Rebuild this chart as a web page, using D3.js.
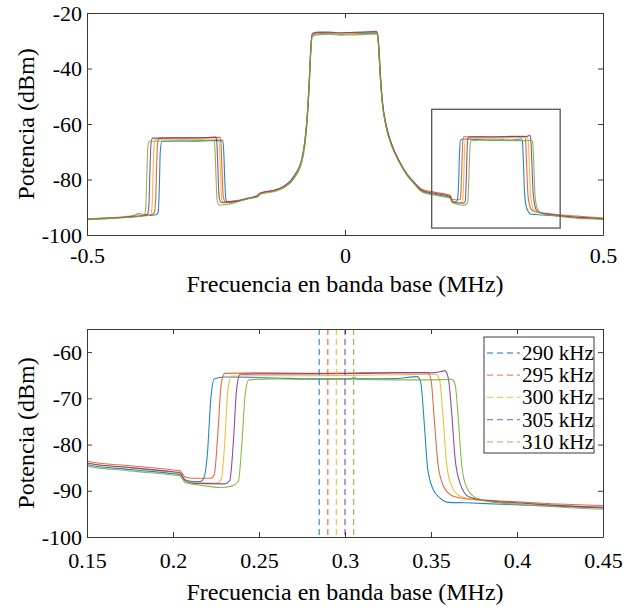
<!DOCTYPE html>
<html>
<head>
<meta charset="utf-8">
<script src="https://cdn.jsdelivr.net/npm/d3@7"></script>
<style>
  body { margin: 0; background: #fff; }
  text { font-family: "Liberation Serif", "Times New Roman", serif; }
</style>
</head>
<body>
<script>
const W = 635, H = 614;

// legend / series names
const labels = ["290 kHz", "295 kHz", "300 kHz", "305 kHz", "310 kHz"];
const colors = ["#0072BD", "#D95319", "#EDB120", "#7E2F8E", "#77AC30"];

// dashed marker positions (MHz), one per series
const markerFreqs = [0.285, 0.29, 0.295, 0.30, 0.305];

// zoom rectangle drawn on the top panel: [f0, f1, p0, p1]
const zoomBox = [0.168, 0.417, -97.5, -54.7];

// tick values
const topXTicks = [-0.5, 0, 0.5];
const topYTicks = [-100, -80, -60, -40, -20];
const botXTicks = [0.15, 0.2, 0.25, 0.3, 0.35, 0.4, 0.45];
const botYTicks = [-100, -90, -80, -70, -60];

// spectra: [frequency MHz, power dBm]
const s290 = [[-0.500,-94.3],[-0.470,-94.0],[-0.440,-93.8],[-0.410,-93.4],[-0.380,-93.0],[-0.366,-92.7],[-0.362,-91.8],[-0.360,-84],[-0.358,-70],[-0.355,-66.3],[-0.330,-66.1],[-0.300,-66.2],[-0.270,-66.0],[-0.237,-65.9],[-0.235,-70],[-0.233,-80],[-0.231,-87],[-0.227,-88.2],[-0.210,-87.9],[-0.190,-87.0],[-0.170,-86.0],[-0.166,-85.2],[-0.160,-84.8],[-0.140,-84.2],[-0.120,-83.0],[-0.105,-81.0],[-0.095,-78.5],[-0.085,-74.5],[-0.078,-68],[-0.073,-58],[-0.069,-45],[-0.066,-33],[-0.063,-28.0],[-0.050,-27.4],[-0.030,-27.3],[-0.010,-27.6],[0.010,-27.5],[0.030,-27.4],[0.050,-27.3],[0.062,-27.3],[0.065,-32],[0.068,-42],[0.072,-52],[0.080,-61],[0.090,-67.5],[0.105,-73.5],[0.120,-78.2],[0.135,-81.5],[0.150,-84.3],[0.175,-85.4],[0.200,-86.3],[0.204,-86.5],[0.207,-87.6],[0.212,-88.0],[0.216,-88.0],[0.218,-87.2],[0.220,-82],[0.222,-70],[0.224,-65.8],[0.230,-65.4],[0.260,-65.6],[0.280,-65.8],[0.310,-65.8],[0.330,-65.7],[0.342,-65.3],[0.344,-66.5],[0.346,-75],[0.348,-85],[0.351,-89.5],[0.355,-91.5],[0.360,-92.5],[0.370,-92.6],[0.390,-92.9],[0.420,-93.3],[0.450,-93.7],[0.480,-94.0],[0.500,-94.2]];

const s295 = [[-0.500,-94.2],[-0.470,-93.9],[-0.440,-93.6],[-0.410,-93.0],[-0.400,-92.3],[-0.390,-92.6],[-0.375,-92.6],[-0.370,-92.0],[-0.367,-88],[-0.365,-75],[-0.363,-66.5],[-0.360,-65.1],[-0.330,-65.0],[-0.300,-65.0],[-0.270,-64.9],[-0.242,-64.8],[-0.240,-68],[-0.238,-78],[-0.236,-86],[-0.232,-88.0],[-0.210,-87.6],[-0.190,-86.8],[-0.170,-85.8],[-0.166,-85.0],[-0.160,-84.6],[-0.140,-84.0],[-0.120,-82.7],[-0.105,-80.5],[-0.095,-78],[-0.085,-74],[-0.078,-67],[-0.073,-57],[-0.069,-44],[-0.066,-32],[-0.063,-27.5],[-0.050,-27.0],[-0.030,-27.1],[-0.010,-27.3],[0.010,-27.2],[0.030,-27.0],[0.050,-26.8],[0.060,-26.5],[0.063,-27.5],[0.066,-33],[0.069,-43],[0.073,-53],[0.080,-61],[0.090,-67.3],[0.105,-73.3],[0.120,-78],[0.135,-81.2],[0.150,-83.6],[0.175,-84.6],[0.200,-85.5],[0.204,-85.7],[0.207,-87.0],[0.212,-87.3],[0.222,-87.3],[0.224,-86.5],[0.226,-78],[0.228,-67],[0.230,-64.6],[0.250,-64.5],[0.280,-64.6],[0.310,-64.5],[0.330,-64.4],[0.348,-64.4],[0.350,-66],[0.352,-75],[0.354,-84],[0.357,-88.8],[0.362,-91.0],[0.370,-91.7],[0.390,-92.2],[0.420,-92.8],[0.450,-93.2],[0.480,-93.6],[0.500,-93.9]];

const s300 = [[-0.500,-94.3],[-0.470,-94.0],[-0.440,-93.7],[-0.410,-93.3],[-0.385,-93.0],[-0.377,-92.6],[-0.374,-90],[-0.372,-78],[-0.370,-67.5],[-0.367,-65.6],[-0.330,-65.5],[-0.300,-65.6],[-0.270,-65.5],[-0.245,-65.4],[-0.243,-69],[-0.241,-79],[-0.239,-87],[-0.235,-88.4],[-0.210,-87.8],[-0.190,-87.0],[-0.170,-86.0],[-0.166,-85.2],[-0.160,-84.8],[-0.140,-84.2],[-0.120,-83.0],[-0.105,-80.8],[-0.095,-78.3],[-0.085,-74.3],[-0.078,-67.5],[-0.073,-57.5],[-0.069,-44.5],[-0.066,-32.5],[-0.063,-27.8],[-0.050,-27.2],[-0.030,-27.2],[-0.010,-27.4],[0.010,-27.4],[0.030,-27.2],[0.050,-27.0],[0.062,-27.0],[0.065,-31],[0.068,-41],[0.072,-51],[0.080,-60.5],[0.090,-67.2],[0.105,-73.4],[0.120,-78.1],[0.135,-81.4],[0.150,-84.0],[0.175,-85.0],[0.200,-86.0],[0.204,-86.2],[0.207,-87.8],[0.212,-88.3],[0.225,-88.4],[0.228,-87.6],[0.230,-80],[0.232,-68],[0.234,-65.2],[0.250,-65.1],[0.280,-65.1],[0.310,-65.0],[0.330,-64.9],[0.353,-64.8],[0.355,-66],[0.357,-74],[0.359,-84],[0.362,-89],[0.367,-91.2],[0.375,-91.9],[0.390,-92.5],[0.420,-93.1],[0.450,-93.6],[0.480,-93.9],[0.500,-94.1]];

const s305 = [[-0.500,-94.4],[-0.470,-94.1],[-0.440,-93.8],[-0.410,-93.3],[-0.390,-93.0],[-0.383,-92.6],[-0.380,-89],[-0.378,-77],[-0.376,-67],[-0.373,-65.1],[-0.330,-65.0],[-0.300,-65.0],[-0.270,-64.9],[-0.250,-64.7],[-0.248,-68],[-0.246,-78],[-0.244,-86],[-0.240,-88.3],[-0.210,-87.8],[-0.190,-86.9],[-0.170,-85.9],[-0.166,-85.1],[-0.160,-84.7],[-0.140,-84.0],[-0.120,-82.6],[-0.105,-80.3],[-0.095,-77.6],[-0.085,-73.5],[-0.078,-66.5],[-0.073,-56.5],[-0.069,-43.5],[-0.066,-31.5],[-0.063,-27.3],[-0.050,-26.9],[-0.030,-26.9],[-0.010,-27.1],[0.010,-27.0],[0.030,-26.9],[0.050,-26.8],[0.062,-26.8],[0.065,-31],[0.068,-41],[0.072,-51],[0.080,-60.5],[0.090,-67.0],[0.105,-73.3],[0.120,-78.0],[0.135,-81.3],[0.150,-84.0],[0.175,-85.0],[0.200,-85.9],[0.204,-86.1],[0.207,-87.8],[0.212,-88.4],[0.230,-88.5],[0.233,-87.8],[0.235,-80],[0.237,-68],[0.239,-64.8],[0.250,-64.7],[0.280,-64.7],[0.310,-64.6],[0.330,-64.5],[0.350,-64.5],[0.356,-64.2],[0.358,-64.0],[0.360,-65.5],[0.362,-73],[0.364,-83],[0.367,-88.5],[0.372,-91.3],[0.380,-92.0],[0.400,-92.6],[0.420,-93.1],[0.450,-93.6],[0.480,-93.9],[0.500,-94.2]];

const s310 = [[-0.500,-94.5],[-0.470,-94.2],[-0.440,-93.9],[-0.410,-93.5],[-0.395,-93.2],[-0.389,-92.8],[-0.386,-90],[-0.384,-78],[-0.382,-68],[-0.379,-66.2],[-0.330,-66.1],[-0.300,-66.1],[-0.270,-66.0],[-0.254,-65.9],[-0.252,-69],[-0.250,-79],[-0.248,-87],[-0.244,-89.2],[-0.220,-88.7],[-0.200,-87.6],[-0.180,-86.7],[-0.168,-86.2],[-0.164,-85.3],[-0.150,-84.8],[-0.130,-84.0],[-0.115,-82.5],[-0.100,-79.8],[-0.090,-76.5],[-0.082,-71],[-0.076,-63],[-0.071,-50],[-0.067,-36],[-0.064,-28.5],[-0.050,-27.8],[-0.030,-27.7],[-0.010,-28.0],[0.010,-27.9],[0.030,-27.8],[0.050,-27.6],[0.062,-27.6],[0.065,-32],[0.068,-42],[0.072,-52],[0.080,-61.5],[0.090,-67.8],[0.105,-73.8],[0.120,-78.5],[0.135,-81.8],[0.150,-84.6],[0.175,-85.7],[0.200,-86.6],[0.204,-86.8],[0.207,-88.2],[0.212,-88.6],[0.220,-89.0],[0.228,-89.3],[0.234,-89.0],[0.238,-88.0],[0.240,-80],[0.242,-69],[0.244,-66.0],[0.260,-65.8],[0.290,-65.9],[0.303,-65.8],[0.305,-65.4],[0.308,-65.9],[0.330,-66.0],[0.350,-66.0],[0.362,-65.9],[0.364,-67],[0.366,-75],[0.368,-85],[0.371,-89.5],[0.376,-91.5],[0.385,-92.4],[0.400,-92.9],[0.420,-93.4],[0.450,-94.0],[0.480,-94.2],[0.500,-94.4]];

const spectra = [s290, s295, s300, s305, s310];

const svg = d3.select("body").append("svg")
    .attr("width", W)
    .attr("height", H);

const fmt = d => String(d); // plain hyphen minus like the original

function drawPanel(box, xDom, yDom, xTicks, yTicks, id, xPad, titleGap) {
    const x = d3.scaleLinear().domain(xDom).range([box.x0, box.x1]);
    const y = d3.scaleLinear().domain(yDom).range([box.y1, box.y0]);

    const g = svg.append("g");

    g.append("clipPath").attr("id", id)
        .append("rect")
        .attr("x", box.x0).attr("y", box.y0)
        .attr("width", box.x1 - box.x0).attr("height", box.y1 - box.y0);

    const plot = g.append("g").attr("clip-path", `url(#${id})`);

    const line = d3.line()
        .x(d => x(d[0]))
        .y(d => y(d[1]))
        .curve(d3.curveMonotoneX);

    spectra.forEach((s, i) => {
        plot.append("path")
            .datum(s)
            .attr("fill", "none")
            .attr("stroke", colors[i])
            .attr("stroke-width", 1.1)
            .attr("stroke-opacity", 0.85)
            .attr("d", line);
    });

    // axes, ticks pointing inward on all four sides
    const axes = [
        [d3.axisBottom(x).tickValues(xTicks).tickFormat(fmt).tickPadding(xPad), `translate(0,${box.y1})`],
        [d3.axisTop(x).tickValues(xTicks).tickFormat(""), `translate(0,${box.y0})`],
        [d3.axisLeft(y).tickValues(yTicks).tickFormat(fmt).tickPadding(5), `translate(${box.x0},0)`],
        [d3.axisRight(y).tickValues(yTicks).tickFormat(""), `translate(${box.x1},0)`]
    ];
    axes.forEach(([ax, tr]) => {
        const a = g.append("g")
            .attr("transform", tr)
            .call(ax.tickSizeInner(-5).tickSizeOuter(0));
        a.attr("font-family", null).attr("font-size", null);
        a.selectAll("path, line").attr("stroke", "#3a3a3a").attr("stroke-width", 1);
        a.selectAll("text").attr("fill", "#000").style("font-size", "22px");
    });

    g.append("text")
        .attr("x", (box.x0 + box.x1) / 2)
        .attr("y", box.y1 + titleGap)
        .attr("text-anchor", "middle")
        .style("font-size", "24px")
        .text("Frecuencia en banda base (MHz)");

    g.append("text")
        .attr("transform", `translate(26,${(box.y0 + box.y1) / 2}) rotate(-90)`)
        .attr("text-anchor", "middle")
        .attr("dominant-baseline", "central")
        .style("font-size", "24px")
        .text("Potencia (dBm)");

    return { x, y, g, plot };
}

// top panel: full baseband span
const topPanel = drawPanel({ x0: 87, x1: 603, y0: 13, y1: 235 }, [-0.5, 0.5], [-100, -20],
    topXTicks, topYTicks, "clipTop", 12, 57);

topPanel.g.append("rect")
    .attr("x", topPanel.x(zoomBox[0]))
    .attr("y", topPanel.y(zoomBox[3]))
    .attr("width", topPanel.x(zoomBox[1]) - topPanel.x(zoomBox[0]))
    .attr("height", topPanel.y(zoomBox[2]) - topPanel.y(zoomBox[3]))
    .attr("fill", "none")
    .attr("stroke", "#555")
    .attr("stroke-width", 1.3);

// bottom panel: zoom on the right sideband
const botPanel = drawPanel({ x0: 87, x1: 603, y0: 329, y1: 537 }, [0.15, 0.45], [-100, -55],
    botXTicks, botYTicks, "clipBot", 15, 63);

markerFreqs.forEach((f, i) => {
    botPanel.plot.append("line")
        .attr("x1", botPanel.x(f)).attr("x2", botPanel.x(f))
        .attr("y1", botPanel.y(-55)).attr("y2", botPanel.y(-100))
        .attr("stroke", colors[i])
        .attr("stroke-opacity", 0.75)
        .attr("stroke-width", 1.3)
        .attr("stroke-dasharray", "6,4");
});

// legend
const leg = botPanel.g.append("g");
leg.append("rect")
    .attr("x", 484).attr("y", 337)
    .attr("width", 110).attr("height", 116)
    .attr("fill", "#fff")
    .attr("stroke", "#3a3a3a")
    .attr("stroke-width", 1);

labels.forEach((lab, i) => {
    const ly = 353 + i * 22.2;
    leg.append("line")
        .attr("x1", 487).attr("x2", 520)
        .attr("y1", ly).attr("y2", ly)
        .attr("stroke", colors[i])
        .attr("stroke-opacity", 0.65)
        .attr("stroke-width", 1.3)
        .attr("stroke-dasharray", "6,4");
    leg.append("text")
        .attr("x", 522)
        .attr("y", ly)
        .attr("dominant-baseline", "central")
        .style("font-size", "21px")
        .text(lab);
});
</script>
</body>
</html>
